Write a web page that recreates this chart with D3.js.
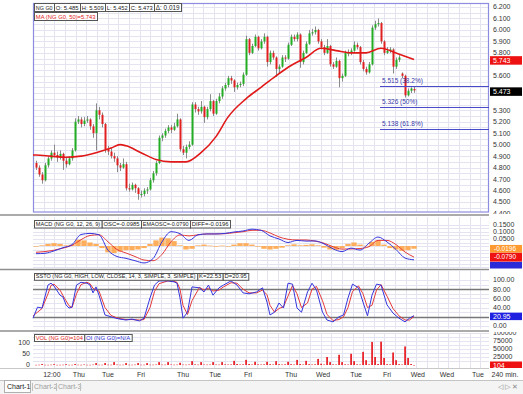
<!DOCTYPE html>
<html><head><meta charset="utf-8">
<script src="https://cdn.jsdelivr.net/npm/d3@7"></script>
<style>
html,body{margin:0;padding:0;background:#fff;}
svg{display:block;font-family:"Liberation Sans",Arial,sans-serif;}
</style></head><body>
<svg id="c" width="523" height="394"></svg>
<script>
// ---------- DATA ----------
const open = [4.84,4.80,4.74,4.69,4.82,4.88,4.93,4.91,4.89,4.92,
4.86,4.83,4.88,4.95,5.20,5.22,5.18,5.21,5.22,5.16,
5.10,5.30,5.26,5.18,4.96,4.94,4.90,4.88,4.82,4.80,
4.83,4.62,4.61,4.65,4.62,4.57,4.57,4.60,4.61,4.69,
4.75,4.84,5.06,5.08,5.12,5.15,5.13,5.16,5.22,4.96,
4.93,4.98,5.00,5.35,5.31,5.29,5.33,5.24,5.31,5.38,
5.27,5.38,5.42,5.49,5.52,5.58,5.56,5.50,5.52,5.53,
5.61,5.92,5.80,5.86,5.94,5.84,5.90,5.94,5.72,5.80,
5.76,5.66,5.68,5.76,5.75,5.87,5.94,5.92,5.96,5.72,
5.80,5.88,5.97,5.98,6.00,5.90,5.85,5.80,5.86,5.70,
5.68,5.73,5.58,5.60,5.80,5.80,5.82,5.87,5.85,5.72,
5.66,5.63,5.70,6.02,6.05,6.06,5.90,5.80,5.82,5.83,
5.68,5.74,5.62,5.60,5.43,5.47,5.485];
const high = [4.86,4.82,4.76,4.84,4.90,4.95,5.00,4.94,4.95,4.93,
4.89,4.90,4.97,5.23,5.25,5.24,5.24,5.25,5.23,5.18,
5.36,5.33,5.28,5.19,4.99,4.97,4.93,4.90,4.84,4.88,
4.85,4.66,4.67,4.66,4.63,4.60,4.62,4.63,4.71,4.77,
4.86,5.08,5.10,5.14,5.17,5.17,5.19,5.27,5.23,4.99,
5.00,5.03,5.37,5.37,5.33,5.38,5.34,5.33,5.44,5.39,
5.40,5.45,5.51,5.54,5.60,5.60,5.57,5.54,5.55,5.63,
5.95,5.93,5.88,5.96,5.95,5.92,5.97,5.95,5.82,5.82,
5.77,5.70,5.78,5.78,5.89,5.96,5.96,5.98,5.97,5.82,
5.90,6.00,6.01,6.03,6.01,5.92,5.87,5.92,5.87,5.72,
5.76,5.74,5.62,5.82,5.83,5.84,5.90,5.89,5.86,5.74,
5.68,5.72,6.04,6.08,6.10,6.07,5.91,5.85,5.85,5.84,
5.76,5.78,5.63,5.61,5.49,5.50,5.509];
const low = [4.78,4.72,4.66,4.68,4.80,4.86,4.89,4.85,4.87,4.78,
4.80,4.82,4.86,4.94,5.18,5.15,5.16,5.19,5.13,5.06,
4.95,5.22,5.15,4.93,4.91,4.88,4.85,4.76,4.77,4.79,
4.60,4.59,4.60,4.58,4.52,4.54,4.55,4.57,4.60,4.67,
4.73,4.83,5.03,5.06,5.10,5.10,5.12,5.15,4.94,4.91,
4.88,4.96,4.99,5.28,5.26,5.27,5.19,5.22,5.29,5.25,
5.26,5.36,5.40,5.47,5.50,5.53,5.46,5.48,5.50,5.51,
5.60,5.78,5.79,5.85,5.82,5.83,5.88,5.68,5.70,5.74,
5.59,5.62,5.67,5.72,5.74,5.86,5.90,5.90,5.67,5.70,
5.79,5.87,5.95,5.96,5.88,5.83,5.78,5.79,5.68,5.66,
5.67,5.50,5.55,5.59,5.77,5.78,5.81,5.83,5.70,5.64,
5.61,5.62,5.69,6.00,6.03,5.88,5.78,5.79,5.80,5.62,
5.66,5.72,5.58,5.41,5.42,5.45,5.452];
const close = [4.80,4.74,4.69,4.82,4.88,4.93,4.91,4.89,4.92,4.86,
4.83,4.88,4.95,5.20,5.22,5.18,5.21,5.22,5.16,5.10,
5.30,5.26,5.18,4.96,4.94,4.90,4.88,4.82,4.80,4.83,
4.62,4.61,4.65,4.62,4.57,4.57,4.60,4.61,4.69,4.75,
4.84,5.06,5.08,5.12,5.15,5.13,5.16,5.22,4.96,4.93,
4.98,5.00,5.35,5.31,5.29,5.33,5.24,5.31,5.38,5.27,
5.38,5.42,5.49,5.52,5.58,5.56,5.50,5.52,5.53,5.61,
5.92,5.80,5.86,5.94,5.84,5.90,5.94,5.72,5.80,5.76,
5.66,5.68,5.76,5.75,5.87,5.94,5.92,5.96,5.72,5.80,
5.88,5.97,5.98,6.00,5.90,5.85,5.80,5.86,5.70,5.68,
5.73,5.58,5.60,5.80,5.80,5.82,5.87,5.85,5.72,5.66,
5.63,5.70,6.02,6.05,6.06,5.90,5.80,5.82,5.83,5.68,
5.74,5.76,5.60,5.43,5.47,5.49,5.473];

const maIdx = [-1,0,5,10,15,20,25,28,30,35,40,45,50,55,60,64,70,75,80,85,90,95,100,105,110,115,120,126];
const maVal = [4.91,4.91,4.90,4.89,4.90,4.93,4.97,5.00,4.99,4.93,4.87,4.85,4.85,4.93,5.07,5.24,5.40,5.50,5.60,5.69,5.76,5.84,5.82,5.80,5.80,5.84,5.80,5.743];

const fibLevels = [5.515, 5.326, 5.138];
const fibLabels = ["5.515 (38.2%)", "5.326 (50%)", "5.138 (61.8%)"];

const macdIdx = [0,3,6,9,12,15,18,21,24,27,30,33,36,39,42,45,48,51,54,57,60,63,66,69,72,75,78,81,84,87,90,93,96,99,102,105,108,111,114,117,120,123,126];
const macdOsc = [-0.055,-0.052,-0.035,-0.012,0.010,0.082,0.090,0.080,-0.030,-0.075,-0.088,-0.105,-0.121,-0.090,0.030,0.102,0.088,0.040,0.080,0.086,0.086,0.090,0.100,0.107,0.120,0.112,0.072,0.050,0.025,0.040,0.035,0.036,0.015,-0.020,-0.040,-0.015,-0.029,0.020,0.064,0.029,-0.025,-0.086,-0.0985];
const macdEma = [-0.045,-0.040,-0.030,-0.015,0.005,0.045,0.075,0.080,0.030,-0.025,-0.050,-0.075,-0.100,-0.105,-0.060,0.030,0.079,0.072,0.080,0.086,0.086,0.088,0.095,0.102,0.112,0.112,0.093,0.065,0.048,0.043,0.043,0.035,0.020,-0.005,-0.022,-0.021,-0.018,-0.005,0.040,0.040,0.010,-0.043,-0.079];
const histIdx = [0,2,4,6,8,10,12,14,16,18,20,22,24,26,28,30,32,34,36,38,40,42,44,46,48,50,52,54,56,58,60,62,64,66,68,70,72,74,76,78,80,82,84,86,88,90,92,94,96,98,100,102,104,106,108,110,112,114,116,118,120,122,124,126];
const macdDiff = [0,0.005,0.015,0.020,0.015,0.005,0.010,0.045,0.040,0.025,0.015,-0.015,-0.045,-0.050,-0.040,-0.030,-0.030,-0.025,-0.015,0.015,0.040,0.060,0.055,0.035,0.005,-0.025,-0.020,0.005,0.010,0.003,-0.005,0.003,-0.003,0.010,0.020,0.020,0.010,-0.005,-0.020,-0.025,-0.020,-0.012,0.005,0.012,0.005,0.008,0.012,0.005,-0.012,-0.025,-0.028,-0.015,0.015,0.025,0.010,0.002,0.030,0.040,0.010,-0.015,-0.025,-0.035,-0.030,-0.0196];

const sstoIdx = [-1,0.5,2,4,5,6,8,9,10,11,12,13.5,15,17,18,19,20,21,23,25,26.5,28,30,32,34.5,36,38,39.5,41,44,46,47,48,49,50.5,52,54.5,56,57.5,59,61,62.5,65,67,69,71,73.5,75.5,77,78,79.5,81,82.5,84,85.5,87,88.5,90.5,92,93.5,95.5,97,99,101,102.5,104,105.5,107.5,109,110.5,112,113.5,115,117,119,121,123,124.5,126];
const sstoK = [17,41,39,89,93,87,67,63,46,39,41,89,95,93,89,72,85,67,24,20,17,15,13,15,11,17,61,89,98,98,96,93,61,17,30,85,83,74,89,67,83,89,98,89,72,70,74,83,52,24,30,50,39,93,91,39,30,74,93,78,30,13,9,20,24,61,91,83,52,22,67,91,89,46,28,17,9,17,22.53];
const sstoD = [22,30,38,70,88,91,78,66,55,44,40,70,90,95,92,82,78,76,40,23,19,16,14,14,13,14,40,75,92,98,97,95,80,45,25,55,84,78,82,76,78,85,94,93,80,72,72,78,68,45,30,38,42,65,88,70,40,50,80,86,55,25,12,14,20,40,75,87,70,40,45,78,90,65,38,22,13,13,20.95];

const volume = [500,800,3000,600,500,900,2500,500,600,900,
2500,500,700,3000,800,600,1500,700,600,1200,
6000,900,800,6000,1000,900,9000,1200,800,1000,
6000,900,800,1200,6000,900,800,6000,1000,900,
1500,9000,1200,1000,9000,1500,1000,1200,7000,1300,
1000,1500,12000,2000,1200,9000,1500,1200,1500,9000,
1500,1200,9000,2000,1500,1800,13000,3000,1500,2000,
16000,3000,1500,10000,2000,1500,2000,10000,2500,1500,
12000,2500,1500,2000,10000,2500,1500,16000,3000,1500,
13000,2500,1500,2000,19000,4000,1500,25000,9000,2000,
1500,32000,9000,2000,1500,35000,12000,2000,1500,41000,
15000,2000,72000,25000,3000,73000,22000,2500,2000,39000,
15000,2500,1500,58000,22000,3000,104];

const priceTicks = [6.2,6.1,6.0,5.9,5.8,5.7,5.6,5.5,5.4,5.3,5.2,5.1,5.0,4.9,4.8,4.7,4.6,4.5,4.4];
const macdTicks = [0.15,0.10,0.05];
const sstoTicks = [100,80,60,40,0];
const volRightTicks = [100000,75000,50000,25000];
const volLeftTicks = [100,50,0];
const timeLabels = ["12:00","Thu","Tue","Fri","Thu","Tue","Fri","Thu","Wed","Tue","Fri","Wed","Wed","Tue"];
const timeIdx = [5.3,14.3,24,35,49,59.7,70.7,85,95.7,106.7,117,127.3,137,147.3];

// ---------- DRAW ----------
const svg = d3.select('#c');
const L = 33, R = 489;
const x = d3.scaleLinear().domain([-1,151]).range([L,R]);
const yP = d3.scaleLinear().domain([4.4,6.2]).range([213.5,7]);
const yM = d3.scaleLinear().domain([-0.157,0.207]).range([268,217]);
const yS = d3.scaleLinear().domain([0,100]).range([326,280]);
const yV = d3.scaleLinear().domain([0,100000]).range([365,333]);
const yVL = d3.scaleLinear().domain([0,100]).range([365,343]);
const gridC = '#e4e4f0';

function vgrid(y0,y1){
  const g = svg.append('g');
  for(let k=1;k<43;k++){
    const xx = Math.round(L + k*10.65)+0.5;
    g.append('line').attr('x1',xx).attr('x2',xx).attr('y1',y0).attr('y2',y1).attr('stroke',gridC).attr('stroke-width',1);
  }
}
function hgrid(vals, sc){
  const g = svg.append('g');
  vals.forEach(v=>{
    const yy = Math.round(sc(v))+0.5;
    g.append('line').attr('x1',L).attr('x2',R).attr('y1',yy).attr('y2',yy).attr('stroke',gridC);
  });
}
vgrid(4,212); vgrid(217,268); vgrid(271,329); vgrid(333,368);
hgrid(d3.range(4.45,6.23,0.05), yP);
hgrid([0.15,0.125,0.1,0.075,0.05,0.025,0,-0.025,-0.05,-0.075,-0.1,-0.125,-0.15], yM);
hgrid([100,90,80,70,60,50,40,30,20,10,0], yS);
hgrid([100000,87500,75000,62500,50000,37500,25000,12500], yV);

svg.append('rect').attr('x',L+0.5).attr('y',3.5).attr('width',R-L-1).attr('height',208.5)
  .attr('fill','none').attr('stroke','#8c8ce0').attr('stroke-width',1.2);

// candles
const cg = svg.append('g');
close.forEach((c,i)=>{
  const o=open[i], up = c>=o;
  const xc = Math.round(x(i))+0.5;
  cg.append('line').attr('x1',xc).attr('x2',xc).attr('y1',yP(high[i])).attr('y2',yP(low[i]))
    .attr('stroke','#8a8a8a').attr('stroke-width',1);
  const yt = yP(Math.max(o,c)), yb = yP(Math.min(o,c));
  cg.append('rect').attr('x',xc-1).attr('y',yt).attr('width',2).attr('height',Math.max(1,yb-yt))
    .attr('fill', up ? '#22ad22' : '#e02020');
});

// MA line
svg.append('path').datum(maIdx.map((d,i)=>[x(d),yP(maVal[i])]))
  .attr('d', d3.line().curve(d3.curveMonotoneX))
  .attr('fill','none').attr('stroke','#e01818').attr('stroke-width',1.6);

// fib
fibLevels.forEach((f,i)=>{
  const yy = Math.round(yP(f))+0.5;
  svg.append('line').attr('x1',380).attr('x2',R).attr('y1',yy).attr('y2',yy).attr('stroke','#4a4ac8').attr('stroke-width',1.2);
  svg.append('text').attr('x',382).attr('y',yy-4).attr('font-size',6.5).attr('fill','#3a3aa8').text(fibLabels[i]);
});

// header boxes: font sized to fit each box
function boxes(y, h, items){
  items.forEach(it=>{
    const w = it[1]-it[0];
    svg.append('rect').attr('x',it[0]+0.5).attr('y',y+0.5).attr('width',w).attr('height',h)
      .attr('fill','#fff').attr('stroke','#555').attr('stroke-width',1);
    const t = svg.append('text').attr('x',it[0]+1.8).attr('y',y+h-1.5).attr('font-size',6.5).attr('fill',it[3]||'#222').text(it[2]);
    const len = t.node().getComputedTextLength();
    const avail = w-3.2;
    if(len>avail){ t.attr('font-size', (6.5*avail/len).toFixed(2)); }
  });
}
boxes(3,8,[[34,54,'NG G0'],[54,80,'O: 5.485'],[80,105,'H: 5.509'],[105,129,'L: 5.452'],[129,154,'C: 5.473'],[154,181,'Δ: 0.019']]);
boxes(12,8,[[34,97,'MA (NG G0, 50)=5.743','#e02020']]);

// separators
[215,269.5,331].forEach(yy=>{
  svg.append('line').attr('x1',0).attr('x2',R).attr('y1',yy).attr('y2',yy).attr('stroke','#8f8f8f').attr('stroke-width',1.5);
});

// right axis labels main (clipped); labels hidden under value boxes are skipped
const boxRed = yP(5.743)+1, boxBlack = yP(5.473)+1.2;
svg.append('clipPath').attr('id','cpMain').append('rect').attr('x',489).attr('y',0).attr('width',34).attr('height',214);
const ra = svg.append('g').attr('clip-path','url(#cpMain)');
priceTicks.forEach(p=>{
  const yy = yP(p);
  if(Math.abs(yy-boxRed)<7.5 || Math.abs(yy-boxBlack)<7.5) return;
  ra.append('text').attr('x',493).attr('y',yy).attr('dy','0.35em').attr('font-size',7).attr('fill','#333').text(p.toFixed(3));
});
function valBox(yc, txt, bg, fg, h){
  svg.append('rect').attr('x',490).attr('y',yc-h/2).attr('width',32).attr('height',h).attr('fill',bg);
  svg.append('text').attr('x',493).attr('y',yc).attr('dy','0.35em').attr('font-size',7).attr('fill',fg||'#fff').text(txt);
}
valBox(boxRed,'5.743','#ee1111','#fff',8.5);
valBox(boxBlack,'5.473','#000','#fff',8.5);

// ---- MACD ----
const hw = 5.4;
histIdx.forEach((d,i)=>{
  const v = macdDiff[i];
  const y0 = yM(0), y1 = yM(v);
  svg.append('rect').attr('x',x(d)-hw/2).attr('y',Math.min(y0,y1)).attr('width',hw).attr('height',Math.max(0.6,Math.abs(y1-y0)))
    .attr('fill','#ffa64a').attr('opacity',0.9);
});
const ml = d3.line().curve(d3.curveMonotoneX);
svg.append('path').attr('d', ml(macdIdx.map((d,i)=>[x(d),yM(macdEma[i])]))).attr('fill','none').attr('stroke','#e43a3a').attr('stroke-width',1);
svg.append('path').attr('d', ml(macdIdx.map((d,i)=>[x(d),yM(macdOsc[i])]))).attr('fill','none').attr('stroke','#3535dd').attr('stroke-width',1);
boxes(220,7.5,[[34,101.7,'MACD (NG G0, 12, 26, 9)'],[101.7,141,'OSC=-0.0985'],[141,190,'EMAOSC=-0.0790'],[190,230,'DIFF=-0.0196']]);
macdTicks.forEach(v=>{
  svg.append('text').attr('x',493).attr('y',yM(v)).attr('dy','0.35em').attr('font-size',7).attr('fill','#333').text(v.toFixed(4));
});
svg.append('clipPath').attr('id','cpMacd').append('rect').attr('x',489).attr('y',217).attr('width',34).attr('height',51.5);
const mb = svg.append('g').attr('clip-path','url(#cpMacd)');
mb.append('rect').attr('x',490).attr('y',yM(-0.0985)+2).attr('width',32).attr('height',8).attr('fill','#2a2ad8');
mb.append('rect').attr('x',490).attr('y',yM(-0.079)-4.5).attr('width',32).attr('height',9).attr('fill','#ee1111');
mb.append('text').attr('x',494).attr('y',yM(-0.079)).attr('dy','0.35em').attr('font-size',6.5).attr('fill','#fff').text('-0.0790');
mb.append('rect').attr('x',490).attr('y',yM(-0.0196)-3.8).attr('width',32).attr('height',7.6).attr('fill','#ff9a30');
mb.append('text').attr('x',494).attr('y',yM(-0.0196)-0.5).attr('dy','0.35em').attr('font-size',6.5).attr('fill','#fff').text('-0.0196');

// ---- SSTO ----
[80,20].forEach(v=>{
  const yy = Math.round(yS(v))+0.5;
  svg.append('line').attr('x1',L).attr('x2',R).attr('y1',yy).attr('y2',yy).attr('stroke','#777').attr('stroke-width',1.3);
});
svg.append('path').attr('d', d3.line()(sstoIdx.map((d,i)=>[x(d),yS(sstoD[i])]))).attr('fill','none').attr('stroke','#e43a3a').attr('stroke-width',1);
svg.append('path').attr('d', d3.line()(sstoIdx.map((d,i)=>[x(d),yS(sstoK[i])]))).attr('fill','none').attr('stroke','#3535dd').attr('stroke-width',1);
boxes(273,6.8,[[34,197.3,'SSTO (NG G0, HIGH, LOW, CLOSE, 14, 3, SIMPLE, 3, SIMPLE)'],[197.3,222.7,'K=22.53'],[222.7,248.3,'D=20.95']]);
sstoTicks.forEach(v=>{
  svg.append('text').attr('x',493).attr('y',yS(v)).attr('dy','0.35em').attr('font-size',7).attr('fill','#333').text(v.toFixed(2));
});
valBox(yS(20.95),'20.95','#2020e0','#fff',7.5);

// ---- Volume ----
volume.forEach((v,i)=>{
  const yt = yV(v);
  svg.append('rect').attr('x',x(i)-0.8).attr('y',yt).attr('width',1.8).attr('height',Math.max(0.5,yV(0)-yt)).attr('fill','#e8262b');
});
boxes(334,7,[[34,84.3,'VOL (NG G0)=104','#e02020'],[84.3,131.7,'OI (NG G0)=N/A','#2a2ad0']]);
svg.append('clipPath').attr('id','cpVol').append('rect').attr('x',489).attr('y',332).attr('width',34).attr('height',36);
const vr = svg.append('g').attr('clip-path','url(#cpVol)');
volRightTicks.forEach(v=>{
  vr.append('text').attr('x',493).attr('y',yV(v)).attr('dy','0.35em').attr('font-size',7).attr('fill','#333').text(v);
});
vr.append('rect').attr('x',490).attr('y',yV(0)-3.5).attr('width',32).attr('height',8).attr('fill','#ee1111');
vr.append('text').attr('x',493).attr('y',yV(0)+0.5).attr('dy','0.35em').attr('font-size',7).attr('fill','#fff').text('104');
volLeftTicks.forEach(v=>{
  svg.append('text').attr('x',30).attr('y',yVL(v)).attr('dy','0.35em').attr('text-anchor','end').attr('font-size',7).attr('fill','#333').text(v);
});

// x axis
svg.append('line').attr('x1',0).attr('x2',R).attr('y1',368.5).attr('y2',368.5).attr('stroke','#c8c8c8');
timeIdx.forEach((d,i)=>{
  svg.append('text').attr('x',x(d)).attr('y',375).attr('dy','0.35em').attr('text-anchor','middle').attr('font-size',7).attr('fill','#333').text(timeLabels[i]);
});
svg.append('text').attr('x',505).attr('y',375).attr('dy','0.35em').attr('text-anchor','middle').attr('font-size',7).attr('fill','#333').text('240 min.');

// tabs
svg.append('rect').attr('x',0).attr('y',380).attr('width',523).attr('height',14).attr('fill','#f4f4f4');
svg.append('line').attr('x1',0).attr('x2',523).attr('y1',380.5).attr('y2',380.5).attr('stroke','#c4c4c4');
svg.append('rect').attr('x',4.5).attr('y',380.5).attr('width',26).attr('height',12).attr('fill','#fff').attr('stroke','#b0b0b0');
svg.append('text').attr('x',7).attr('y',387).attr('dy','0.35em').attr('font-size',7).attr('fill','#222').text('Chart-1');
svg.append('text').attr('x',34).attr('y',387).attr('dy','0.35em').attr('font-size',7).attr('fill','#a0a0a0').text('Chart-2');
svg.append('text').attr('x',58).attr('y',387).attr('dy','0.35em').attr('font-size',7).attr('fill','#a0a0a0').text('Chart-3');
[32,56,80].forEach(xx=>svg.append('line').attr('x1',xx+0.5).attr('x2',xx+0.5).attr('y1',383).attr('y2',391).attr('stroke','#c0c0c0'));
svg.append('text').attr('x',498).attr('y',387).attr('dy','0.35em').attr('font-size',6.5).attr('fill','#888').text('◁ ▷ ✕');
</script>
</body></html>
